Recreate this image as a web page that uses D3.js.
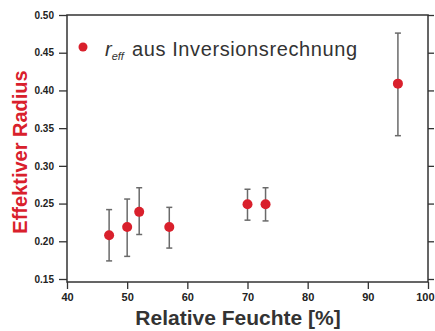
<!DOCTYPE html>
<html>
<head>
<meta charset="utf-8">
<script src="https://cdn.jsdelivr.net/npm/d3@7"></script>
<style>
  body { margin: 0; background: #fff; }
  svg { display: block; font-family: "Liberation Sans", Arial, sans-serif; }
</style>
</head>
<body>
<div id="vis"></div>
<script>
// relative humidity [%] and effective radius with error
const humidity = [47, 50, 52, 57, 70, 73, 95];
const radius   = [0.208, 0.219, 0.239, 0.219, 0.249, 0.249, 0.409];
const errLow   = [0.174, 0.180, 0.209, 0.191, 0.228, 0.227, 0.340];
const errHigh  = [0.242, 0.256, 0.271, 0.245, 0.269, 0.271, 0.476];
const xTicks = [40, 50, 60, 70, 80, 90, 100];
const yTicks = [0.15, 0.20, 0.25, 0.30, 0.35, 0.40, 0.45, 0.50];

const width = 435, height = 331;
const margin = { top: 15, right: 7, bottom: 49, left: 67 };

const svg = d3.select("#vis").append("svg")
    .attr("width", width)
    .attr("height", height);

const x = d3.scaleLinear().domain([40, 100]).range([margin.left, width - margin.right]);
const y = d3.scaleLinear().domain([0.15, 0.50]).range([height - margin.bottom - 3, margin.top]);

const axisColor = "#333";
const red = "#d9202c";

// frame
svg.append("rect")
    .attr("x", x(40)).attr("y", y(0.5))
    .attr("width", x(100) - x(40))
    .attr("height", y(0.15) + 3 - y(0.5))
    .attr("fill", "none")
    .attr("stroke", axisColor)
    .attr("stroke-width", 1.5);

// x axis ticks
const xAxis = svg.append("g").attr("transform", `translate(0, ${y(0.15) + 3})`);
xAxis.call(d3.axisBottom(x).tickValues(d3.range(40, 101, 5)).tickSize(4).tickFormat(""));
xAxis.call(d3.axisBottom(x).tickValues(xTicks).tickSize(7).tickFormat(d3.format("d")));
xAxis.selectAll(".domain").remove();
xAxis.selectAll("line").attr("stroke", axisColor).attr("stroke-width", 1.3);
xAxis.selectAll("text")
    .attr("fill", "#222")
    .style("font-family", "'Liberation Sans Narrow', 'Liberation Sans', sans-serif")
    .style("font-size", "11px")
    .style("font-weight", "bold")
    .attr("dy", "0.85em");
// last label sits at the window edge; keep it inside
xAxis.selectAll(".tick text").filter(d => d === 100)
    .attr("text-anchor", "end")
    .attr("x", width - x(100) - 1);

// y axis ticks (left, labelled)
const yAxis = svg.append("g").attr("transform", `translate(${x(40)}, 0)`);
yAxis.call(d3.axisLeft(y).tickValues(d3.range(0.15, 0.501, 0.025)).tickSize(4).tickFormat(""));
yAxis.call(d3.axisLeft(y).tickValues(yTicks).tickSize(8).tickFormat(d3.format(".2f")));
yAxis.selectAll(".domain").remove();
yAxis.selectAll("line").attr("stroke", axisColor).attr("stroke-width", 1.3);
yAxis.selectAll("text")
    .attr("fill", "#222")
    .style("font-size", "10px")
    .style("font-weight", "bold")
    .attr("x", -13);

// y axis ticks (right, mirror)
const yRight = svg.append("g").attr("transform", `translate(${x(100)}, 0)`);
yRight.call(d3.axisRight(y).tickValues(d3.range(0.15, 0.501, 0.025)).tickSize(4).tickFormat(""));
yRight.call(d3.axisRight(y).tickValues(yTicks).tickSize(6).tickFormat(""));
yRight.selectAll(".domain").remove();
yRight.selectAll("line").attr("stroke", axisColor).attr("stroke-width", 1.3);

// error bars
const errG = svg.append("g").attr("stroke", "#6a6a6a").attr("stroke-width", 1.5);
humidity.forEach((h, i) => {
    errG.append("line")
        .attr("x1", x(h)).attr("x2", x(h))
        .attr("y1", y(errLow[i])).attr("y2", y(errHigh[i]));
    [errLow[i], errHigh[i]].forEach(v => {
        errG.append("line")
            .attr("x1", x(h) - 3).attr("x2", x(h) + 3)
            .attr("y1", y(v)).attr("y2", y(v));
    });
});

// points
svg.append("g")
    .selectAll("circle")
    .data(humidity)
    .join("circle")
    .attr("cx", d => x(d))
    .attr("cy", (d, i) => y(radius[i]))
    .attr("r", 5)
    .attr("fill", red);

// legend
svg.append("circle").attr("cx", 83).attr("cy", 47).attr("r", 4.5).attr("fill", red);
const leg = svg.append("text")
    .attr("x", 105).attr("y", 56)
    .attr("fill", "#333")
    .style("font-size", "20px");
leg.append("tspan").style("font-style", "italic").text("r");
leg.append("tspan").style("font-style", "italic").style("font-size", "11px").attr("dy", 4).text("eff");
leg.append("tspan").attr("dy", -4).attr("x", 132).attr("textLength", 225).text("aus Inversionsrechnung");

// axis titles
svg.append("text")
    .attr("x", 238).attr("y", 325)
    .attr("text-anchor", "middle")
    .attr("fill", "#333")
    .style("font-size", "21px")
    .style("font-weight", "bold")
    .text("Relative Feuchte [%]");

svg.append("text")
    .attr("transform", `translate(27, 152) rotate(-90)`)
    .attr("text-anchor", "middle")
    .attr("fill", red)
    .style("font-size", "20px")
    .style("font-weight", "bold")
    .text("Effektiver Radius");
</script>
</body>
</html>
